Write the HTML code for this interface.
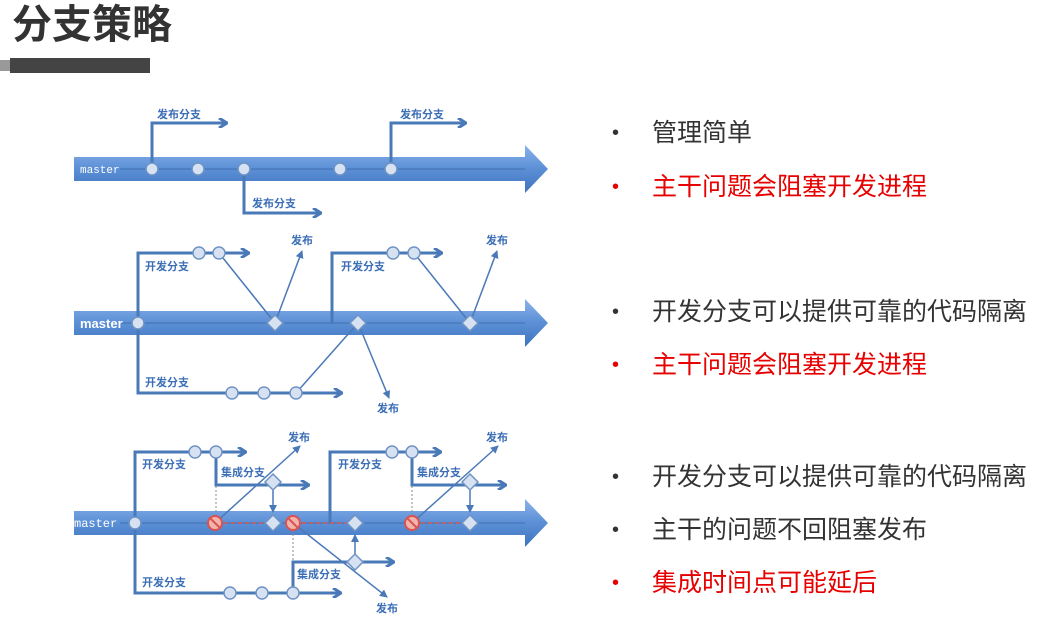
<!DOCTYPE html>
<html><head><meta charset="utf-8"><style>
body{margin:0;background:#fff;width:1040px;height:621px;overflow:hidden;position:relative;font-family:"Liberation Sans","Noto Sans CJK SC",sans-serif}
.t{position:absolute;left:12px;top:0px;font-size:40px;font-weight:bold;color:#333;line-height:50px}
.b{position:absolute;left:10px;top:58px;width:140px;height:15px;background:#444}
.b0{position:absolute;left:0;top:60px;width:10px;height:11px;background:#999}
.li{position:absolute;left:652px;font-size:25px;line-height:30px;color:#333}
.li:before{content:"•";position:absolute;left:-40px;font-size:20px}
.r{color:#e60000}
</style></head><body>
<div class="t">分支策略</div><div class="b0"></div><div class="b"></div>
<div class="li" style="top:118px">管理简单</div>
<div class="li r" style="top:172px">主干问题会阻塞开发进程</div>
<div class="li" style="top:297px">开发分支可以提供可靠的代码隔离</div>
<div class="li r" style="top:350px">主干问题会阻塞开发进程</div>
<div class="li" style="top:462px">开发分支可以提供可靠的代码隔离</div>
<div class="li" style="top:515px">主干的问题不回阻塞发布</div>
<div class="li r" style="top:568px">集成时间点可能延后</div>
<svg width="1040" height="621" style="position:absolute;left:0;top:0" font-family="Liberation Sans,Noto Sans CJK SC,sans-serif">
<defs>
<linearGradient id="g" x1="0" y1="0" x2="0" y2="1"><stop offset="0" stop-color="#8bb3ea"/><stop offset="0.5" stop-color="#5b8fd6"/><stop offset="1" stop-color="#3f73bd"/></linearGradient>
<marker id="a" markerWidth="10" markerHeight="10" refX="8" refY="5" orient="auto" markerUnits="userSpaceOnUse"><path d="M1,0 L9,5 L1,10" fill="none" stroke="#4a79b8" stroke-width="3"/></marker>
<marker id="s" markerWidth="8" markerHeight="8" refX="7" refY="4" orient="auto" markerUnits="userSpaceOnUse"><path d="M0,0 L8,4 L0,8 z" fill="#4a79b8"/></marker>
<g id="bar"><path d="M74,-12 H525 V-24 L548,0 L525,24 V12 H74 z" fill="url(#g)"/><line x1="120" y1="0" x2="525" y2="0" stroke="#3f6fae" stroke-width="1"/></g>
</defs>
<g fill="none" stroke="#4a79b8" stroke-width="3">
<!-- d1 -->
<use href="#bar" y="169" stroke="none"/>
<path d="M152,169 V123 H226" marker-end="url(#a)"/>
<path d="M391,169 V123 H465" marker-end="url(#a)"/>
<path d="M244,169 V213 H320" marker-end="url(#a)"/>
<!-- d2 -->
<use href="#bar" y="323" stroke="none"/>
<path d="M138,323 V253 H248" marker-end="url(#a)"/>
<path d="M332,323 V253 H441" marker-end="url(#a)"/>
<path d="M138,323 V393 H341" marker-end="url(#a)"/>
<!-- d3 -->
<use href="#bar" y="523" stroke="none"/>
<path d="M135,523 V452 H245" marker-end="url(#a)"/>
<path d="M216,452 V485 H308" marker-end="url(#a)"/>
<path d="M330,523 V452 H440" marker-end="url(#a)"/>
<path d="M412,452 V485 H505" marker-end="url(#a)"/>
<path d="M135,523 V593 H340" marker-end="url(#a)"/>
<path d="M293,593 V562 H393" marker-end="url(#a)"/>
</g>
<g fill="none" stroke="#4a79b8" stroke-width="1.5">
<line x1="219" y1="253" x2="275" y2="323"/><line x1="275" y1="323" x2="302" y2="251" marker-end="url(#s)"/>
<line x1="414" y1="253" x2="470" y2="323"/><line x1="470" y1="323" x2="497" y2="251" marker-end="url(#s)"/>
<line x1="296" y1="393" x2="358" y2="323"/><line x1="358" y1="323" x2="389" y2="398" marker-end="url(#s)"/>
<line x1="215" y1="523" x2="300" y2="446" marker-end="url(#s)"/>
<line x1="412" y1="523" x2="498" y2="446" marker-end="url(#s)"/>
<line x1="293" y1="523" x2="387" y2="597" marker-end="url(#s)"/>
<line x1="273" y1="482" x2="273" y2="512" marker-end="url(#s)"/>
<line x1="470" y1="482" x2="470" y2="512" marker-end="url(#s)"/>
<line x1="355" y1="562" x2="355" y2="535" marker-end="url(#s)"/>
</g>
<g stroke="#888" stroke-width="1" stroke-dasharray="2,2">
<line x1="216" y1="486" x2="216" y2="516"/><line x1="293" y1="530" x2="293" y2="561"/><line x1="412" y1="486" x2="412" y2="516"/>
</g>
<g stroke="#d9534f" stroke-width="1.5" stroke-dasharray="4,3">
<line x1="224" y1="523" x2="266" y2="523"/><line x1="302" y1="523" x2="348" y2="523"/><line x1="421" y1="523" x2="463" y2="523"/>
</g>
<g fill="#d6e2f2" stroke="#6f93c4" stroke-width="1.5">
<circle cx="152" cy="169" r="6"/><circle cx="198" cy="169" r="6"/><circle cx="244" cy="169" r="6"/><circle cx="340" cy="169" r="6"/><circle cx="391" cy="169" r="6"/>
<circle cx="138" cy="323" r="6"/><circle cx="199" cy="253" r="6"/><circle cx="219" cy="253" r="6"/><circle cx="393" cy="253" r="6"/><circle cx="414" cy="253" r="6"/>
<circle cx="232" cy="393" r="6"/><circle cx="264" cy="393" r="6"/><circle cx="296" cy="393" r="6"/>
<circle cx="135" cy="523" r="6"/><circle cx="195" cy="452" r="6"/><circle cx="216" cy="452" r="6"/><circle cx="392" cy="452" r="6"/><circle cx="412" cy="452" r="6"/>
<circle cx="230" cy="593" r="6"/><circle cx="262" cy="593" r="6"/><circle cx="293" cy="593" r="6"/>
<path d="M275,315 l8,8 l-8,8 l-8,-8z M358,315 l8,8 l-8,8 l-8,-8z M470,315 l8,8 l-8,8 l-8,-8z"/>
<path d="M273,474 l8,8 l-8,8 l-8,-8z M273,515 l8,8 l-8,8 l-8,-8z M355,515 l8,8 l-8,8 l-8,-8z M470,474 l8,8 l-8,8 l-8,-8z M470,515 l8,8 l-8,8 l-8,-8z M355,554 l8,8 l-8,8 l-8,-8z"/>
</g>
<g fill="#f3b3ad" stroke="#d9534f" stroke-width="2">
<circle cx="215" cy="523" r="7"/><circle cx="293" cy="523" r="7"/><circle cx="412" cy="523" r="7"/>
<path d="M210,518 L220,528 M288,518 L298,528 M407,518 L417,528"/>
</g>
<g fill="#3d6fb6" font-size="11" font-weight="bold">
<text x="157" y="118">发布分支</text><text x="400" y="118">发布分支</text><text x="252" y="207">发布分支</text>
<text x="145" y="270">开发分支</text><text x="341" y="270">开发分支</text><text x="145" y="386">开发分支</text>
<text x="291" y="244">发布</text><text x="486" y="244">发布</text><text x="377" y="412">发布</text>
<text x="142" y="468">开发分支</text><text x="338" y="468">开发分支</text><text x="142" y="586">开发分支</text>
<text x="221" y="476">集成分支</text><text x="417" y="476">集成分支</text><text x="297" y="578">集成分支</text>
<text x="288" y="441">发布</text><text x="486" y="441">发布</text><text x="376" y="612">发布</text>
</g>
<g fill="#fff">
<text x="80" y="173" font-size="11" font-family="Liberation Mono,monospace">master</text>
<text x="80" y="328" font-size="13" font-weight="bold">master</text>
<text x="74" y="527" font-size="12" font-family="Liberation Mono,monospace">master</text>
</g>
</svg>
</body></html>
